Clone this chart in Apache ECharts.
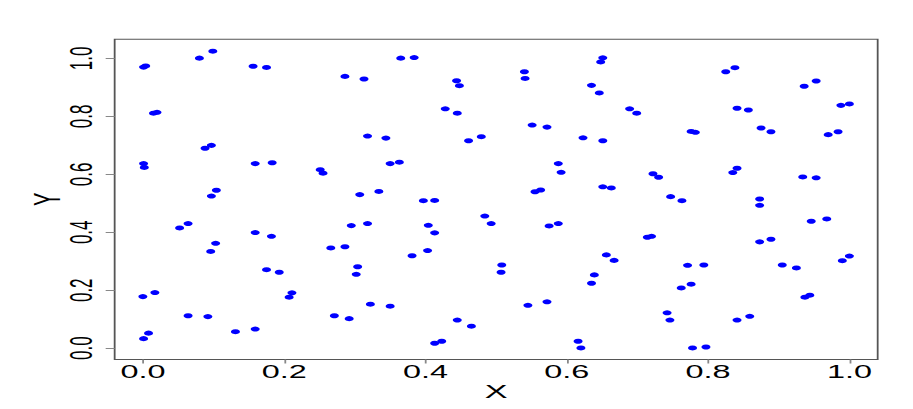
<!DOCTYPE html>
<html>
<head>
<meta charset="utf-8">
<script src="https://cdn.jsdelivr.net/npm/echarts@6/dist/echarts.min.js"></script>
<style>
  html, body { margin: 0; padding: 0; background: #fff; overflow: hidden; }
  #chart { width: 507px; height: 409px; transform-origin: 0 0; transform: scaleX(1.8); }
</style>
</head>
<body>
<div id="chart"></div>
<script>
// Data
const xValues = [
  0.001, 0.004, 0.080, 0.099, 0.156, 0.175, 0.015, 0.020, 0.088, 0.097,
  0.001, 0.002, 0.159, 0.183, 0.097, 0.104, 0.052, 0.064, 0.159, 0.182,
  0.103, 0.096, 0.175, 0.193, 0.000, 0.017, 0.211, 0.207, 0.064, 0.092,
  0.131, 0.159, 0.008, 0.001, 0.365, 0.384, 0.286, 0.313, 0.444, 0.448,
  0.428, 0.445, 0.318, 0.344, 0.461, 0.479, 0.251, 0.255, 0.350, 0.363,
  0.307, 0.334, 0.397, 0.413, 0.295, 0.318, 0.404, 0.413, 0.484, 0.493,
  0.266, 0.286, 0.381, 0.403, 0.304, 0.302, 0.508, 0.507, 0.322, 0.350,
  0.271, 0.292, 0.445, 0.465, 0.413, 0.423, 0.540, 0.541, 0.651, 0.648,
  0.635, 0.646, 0.689, 0.699, 0.551, 0.572, 0.623, 0.651, 0.588, 0.592,
  0.722, 0.730, 0.555, 0.563, 0.651, 0.663, 0.747, 0.763, 0.575, 0.588,
  0.714, 0.720, 0.656, 0.667, 0.639, 0.635, 0.771, 0.776, 0.762, 0.545,
  0.572, 0.742, 0.746, 0.616, 0.620, 0.778, 0.825, 0.838, 0.936, 0.953,
  0.841, 0.857, 0.988, 1.000, 0.776, 0.782, 0.875, 0.889, 0.970, 0.984,
  0.835, 0.841, 0.934, 0.953, 0.873, 0.873, 0.946, 0.968, 0.873, 0.889,
  0.794, 0.905, 0.925, 0.990, 1.000, 0.937, 0.944, 0.841, 0.859, 0.797
];
const yValues = [
  0.970, 0.974, 1.001, 1.025, 0.973, 0.969, 0.811, 0.814, 0.690, 0.700,
  0.637, 0.624, 0.637, 0.640, 0.525, 0.545, 0.415, 0.430, 0.399, 0.386,
  0.362, 0.334, 0.271, 0.262, 0.178, 0.192, 0.191, 0.176, 0.112, 0.109,
  0.057, 0.066, 0.052, 0.033, 1.001, 1.003, 0.938, 0.929, 0.923, 0.906,
  0.826, 0.811, 0.732, 0.725, 0.716, 0.730, 0.616, 0.604, 0.637, 0.642,
  0.530, 0.541, 0.509, 0.510, 0.423, 0.430, 0.424, 0.398, 0.456, 0.430,
  0.346, 0.350, 0.319, 0.337, 0.281, 0.255, 0.287, 0.262, 0.152, 0.145,
  0.112, 0.102, 0.097, 0.076, 0.017, 0.024, 0.954, 0.931, 1.002, 0.988,
  0.907, 0.881, 0.826, 0.811, 0.770, 0.763, 0.726, 0.716, 0.637, 0.607,
  0.602, 0.590, 0.540, 0.546, 0.557, 0.553, 0.523, 0.509, 0.422, 0.430,
  0.383, 0.386, 0.322, 0.303, 0.253, 0.224, 0.286, 0.221, 0.208, 0.148,
  0.160, 0.122, 0.097, 0.024, 0.001, 0.001, 0.954, 0.968, 0.904, 0.922,
  0.828, 0.822, 0.838, 0.843, 0.748, 0.745, 0.760, 0.747, 0.737, 0.747,
  0.606, 0.621, 0.591, 0.588, 0.515, 0.493, 0.438, 0.446, 0.367, 0.376,
  0.287, 0.287, 0.277, 0.302, 0.318, 0.176, 0.183, 0.097, 0.110, 0.004
];
const tickValues = [0, 0.2, 0.4, 0.6, 0.8, 1.0];
const xName = 'X';
const yName = 'Y';

const points = xValues.map((x, i) => [x, yValues[i]]);

const chart = echarts.init(document.getElementById('chart'), null, { renderer: 'svg' });
const font = 'Liberation Sans';
chart.setOption({
  animation: false,
  backgroundColor: '#ffffff',
  grid: {
    left: 63.7, right: 19.4, top: 39.3, bottom: 49.5,
    show: true, borderColor: '#555555', borderWidth: 1, backgroundColor: 'transparent'
  },
  xAxis: {
    type: 'value', min: -0.04, max: 1.04,
    name: xName, nameLocation: 'middle', nameGap: 22, nameMoveOverlap: false,
    nameTextStyle: { fontSize: 19, color: '#000', fontFamily: font },
    axisLine: { show: false, onZero: false },
    splitLine: { show: false },
    axisTick: { show: true, length: 4, customValues: tickValues, lineStyle: { color: '#888', width: 1 } },
    axisLabel: { customValues: tickValues, formatter: v => v.toFixed(1), fontSize: 18, color: '#000', margin: 3, fontFamily: font }
  },
  yAxis: {
    type: 'value', min: -0.039, max: 1.066,
    name: yName, nameLocation: 'middle', nameGap: 27, nameMoveOverlap: false,
    nameTextStyle: { fontSize: 20, color: '#000', fontFamily: font },
    axisLine: { show: false, onZero: false },
    splitLine: { show: false },
    axisTick: { show: true, length: 5, customValues: tickValues, lineStyle: { color: '#888', width: 1 } },
    axisLabel: { customValues: tickValues, formatter: v => v.toFixed(1), rotate: 90, fontSize: 17, color: '#000', margin: 10, fontFamily: font }
  },
  series: [{
    type: 'scatter',
    data: points,
    symbol: 'circle',
    symbolSize: 5,
    itemStyle: { color: '#0000ff', opacity: 1 }
  }]
});
</script>
</body>
</html>
